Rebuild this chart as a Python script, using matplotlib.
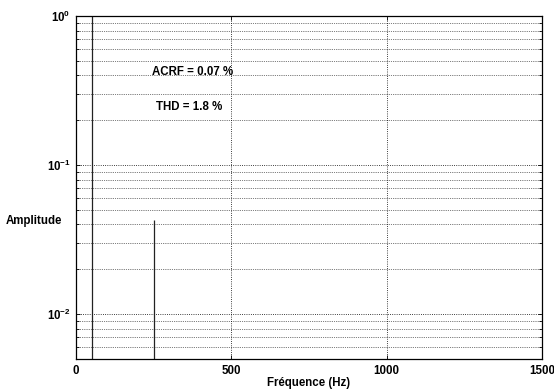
import matplotlib
matplotlib.use("Agg")
import matplotlib.pyplot as plt

plt.rcParams['font.family'] = ['Liberation Sans', 'DejaVu Sans']
plt.rcParams['mathtext.fontset'] = 'custom'
plt.rcParams['mathtext.rm'] = 'Liberation Sans:bold'
plt.rcParams['mathtext.it'] = 'Liberation Sans:bold'
plt.rcParams['mathtext.bf'] = 'Liberation Sans:bold'

# Harmonic spectrum: frequency (Hz) and amplitude (per unit)
freqs = [50, 250]
amps = [1.0, 0.043]
y_floor = 0.005

x_ticks = [0, 500, 1000, 1500]
annotations = ["ACRF = 0.07 %", "THD = 1.8 %"]

FS = 8.3
fig = plt.figure(figsize=(5.54, 3.92), dpi=100)
ax = fig.add_axes([0.1372, 0.0842, 0.8411, 0.8748])

ax.set_yscale('log')
ax.set_xlim(0, 1500)
ax.set_ylim(y_floor, 1.0)
ax.vlines(freqs, y_floor, amps, colors='#222222', linewidth=0.9)

ax.set_xticks(x_ticks)
ax.set_xticklabels([str(t) for t in x_ticks], fontsize=FS, fontweight='bold')
ax.set_yticks([1e-2, 1e-1, 1e0])
ax.set_yticklabels([r'$10^{-2}$', r'$10^{-1}$', r'$10^{0}$'], fontsize=FS)
ax.tick_params(axis='both', which='both', direction='in', length=3, width=0.6, pad=4)
ax.tick_params(axis='both', which='minor', length=2)
ax.xaxis.set_ticks_position('both')
ax.yaxis.set_ticks_position('both')

ax.grid(True, which='major', linestyle=':', color='black', linewidth=0.6)
ax.grid(True, which='minor', axis='y', linestyle=':', color='black', linewidth=0.5)

for s in ax.spines.values():
    s.set_linewidth(0.9)

ax.set_xlabel('Fréquence (Hz)', fontsize=FS, fontweight='bold', labelpad=0)
ax.set_ylabel('Amplitude', fontsize=FS, fontweight='bold', rotation=0, ha='right', va='center')
ax.yaxis.set_label_coords(-0.030, 0.402)

ax.text(245, 0.42, annotations[0], fontsize=FS, fontweight='bold', va='center', ha='left')
ax.text(257, 0.245, annotations[1], fontsize=FS, fontweight='bold', va='center', ha='left')

fig.savefig('out.png', dpi=100)
